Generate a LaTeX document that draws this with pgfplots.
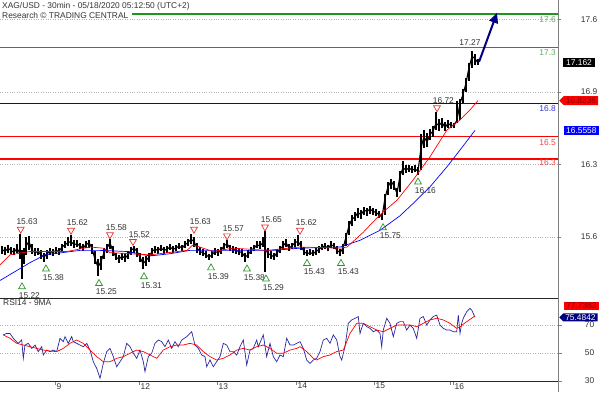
\documentclass[border=0pt]{standalone}
\usepackage{pgfplots}
\pgfplotsset{compat=1.18}
\usepackage{pgfplotstable}
\usepackage{fontspec}
\setmainfont{Liberation Sans}
\usetikzlibrary{shapes.symbols,arrows.meta}

\definecolor{txt}{HTML}{333333}
\definecolor{lvgreen}{RGB}{30,150,30}
\definecolor{lblgreen}{RGB}{100,170,100}
\definecolor{lblred}{RGB}{235,70,70}
\definecolor{lvblue}{RGB}{0,0,210}
\definecolor{trired}{RGB}{230,50,50}
\definecolor{trigreen}{RGB}{40,150,40}
\definecolor{rsiblue}{RGB}{40,40,160}
\definecolor{navy}{RGB}{0,0,128}

% 30-min bars: x position, close, high, low
\pgfplotstableread{
x c hi lo
2 15.49 15.52 15.45
5 15.47 15.51 15.44
8 15.50 15.53 15.46
11 15.48 15.51 15.45
14 15.46 15.50 15.44
17 15.50 15.54 15.46
20 15.45 15.63 15.40
22 15.40 15.48 15.22
24 15.44 15.50 15.36
26 15.52 15.60 15.44
29 15.56 15.61 15.48
32 15.48 15.54 15.45
35 15.46 15.50 15.43
38 15.47 15.50 15.44
41 15.44 15.48 15.40
44 15.42 15.46 15.38
47 15.45 15.48 15.40
50 15.47 15.50 15.44
53 15.46 15.49 15.43
56 15.48 15.51 15.45
59 15.47 15.50 15.44
62 15.51 15.54 15.47
65 15.53 15.56 15.50
68 15.55 15.60 15.52
71 15.56 15.62 15.52
74 15.53 15.57 15.50
77 15.54 15.57 15.51
80 15.52 15.55 15.49
83 15.50 15.54 15.47
86 15.53 15.56 15.50
89 15.55 15.57 15.50
92 15.50 15.54 15.45
95 15.40 15.47 15.36
98 15.33 15.40 15.25
101 15.38 15.43 15.30
104 15.46 15.50 15.40
107 15.50 15.54 15.46
110 15.55 15.58 15.49
113 15.47 15.52 15.43
116 15.42 15.46 15.39
119 15.40 15.44 15.37
122 15.43 15.46 15.39
125 15.41 15.45 15.38
128 15.44 15.47 15.40
131 15.48 15.51 15.44
134 15.50 15.52 15.46
137 15.47 15.50 15.42
140 15.42 15.46 15.38
143 15.36 15.42 15.31
146 15.39 15.43 15.34
149 15.42 15.46 15.38
152 15.47 15.50 15.43
155 15.49 15.52 15.46
158 15.48 15.51 15.45
161 15.50 15.53 15.47
164 15.48 15.51 15.45
167 15.49 15.52 15.46
170 15.51 15.54 15.48
173 15.49 15.52 15.46
176 15.50 15.53 15.47
179 15.52 15.55 15.49
182 15.50 15.53 15.47
185 15.53 15.56 15.50
188 15.55 15.58 15.52
191 15.58 15.63 15.54
194 15.56 15.60 15.51
197 15.50 15.55 15.46
200 15.47 15.51 15.44
203 15.46 15.49 15.43
206 15.44 15.47 15.41
209 15.42 15.45 15.39
212 15.44 15.47 15.41
215 15.47 15.50 15.44
218 15.46 15.49 15.43
221 15.48 15.51 15.45
224 15.52 15.55 15.48
227 15.54 15.57 15.50
230 15.50 15.53 15.47
233 15.49 15.52 15.46
236 15.48 15.51 15.45
239 15.47 15.50 15.44
242 15.46 15.49 15.42
245 15.42 15.46 15.38
248 15.44 15.48 15.41
251 15.48 15.51 15.45
254 15.50 15.53 15.47
257 15.53 15.56 15.50
260 15.52 15.56 15.49
263 15.55 15.60 15.51
265 15.50 15.65 15.29
268 15.45 15.50 15.41
271 15.44 15.47 15.40
274 15.42 15.46 15.39
277 15.46 15.49 15.42
280 15.49 15.52 15.46
283 15.52 15.56 15.49
286 15.55 15.58 15.51
289 15.50 15.54 15.47
292 15.52 15.55 15.49
295 15.55 15.58 15.51
298 15.56 15.62 15.52
301 15.52 15.56 15.48
304 15.47 15.51 15.44
307 15.45 15.48 15.43
310 15.46 15.49 15.44
313 15.45 15.48 15.43
316 15.47 15.50 15.44
319 15.49 15.52 15.46
322 15.51 15.54 15.48
325 15.52 15.55 15.49
328 15.50 15.53 15.47
331 15.53 15.56 15.50
334 15.52 15.55 15.49
337 15.48 15.52 15.45
340 15.46 15.49 15.43
343 15.50 15.54 15.45
346 15.60 15.64 15.52
349 15.70 15.74 15.62
352 15.76 15.80 15.70
355 15.78 15.82 15.74
358 15.82 15.86 15.77
361 15.80 15.84 15.76
364 15.84 15.87 15.80
367 15.83 15.86 15.79
370 15.85 15.88 15.81
373 15.83 15.86 15.80
376 15.82 15.85 15.79
379 15.80 15.83 15.77
382 15.78 15.81 15.75
385 15.95 15.99 15.80
388 16.05 16.09 15.98
391 16.10 16.12 16.03
394 16.06 16.10 16.02
397 15.99 16.04 15.96
400 16.15 16.19 16.00
403 16.22 16.28 16.16
406 16.20 16.25 16.17
409 16.22 16.25 16.18
412 16.20 16.24 16.17
415 16.21 16.25 16.18
418 16.19 16.23 16.16
421 16.40 16.52 16.20
424 16.50 16.56 16.40
427 16.45 16.53 16.41
430 16.52 16.57 16.47
433 16.55 16.60 16.50
436 16.62 16.72 16.56
439 16.60 16.66 16.55
442 16.63 16.67 16.58
445 16.58 16.63 16.55
448 16.62 16.65 16.58
451 16.60 16.63 16.58
454 16.60 16.62 16.58
457 16.65 16.82 16.62
460 16.80 16.84 16.65
463 16.88 16.93 16.80
466 16.98 17.03 16.90
469 17.12 17.16 17.00
472 17.22 17.27 17.12
475 17.20 17.24 17.14
478 17.16 17.20 17.14
}\price

\pgfplotstableread{
x v
0 15.35
10 15.44
30 15.47
67 15.47
90 15.51
103 15.50
110 15.46
150 15.44
187 15.48
193 15.53
213 15.47
233 15.50
267 15.48
300 15.51
340 15.50
347 15.51
363 15.64
380 15.80
397 15.93
413 16.11
430 16.32
447 16.56
460 16.65
470 16.74
478 16.8236
}\mafast

\pgfplotstableread{
x v
0 15.21
30 15.37
45 15.44
80 15.48
100 15.48
127 15.47
150 15.43
170 15.45
190 15.48
207 15.48
240 15.48
273 15.48
300 15.50
340 15.51
360 15.57
380 15.66
400 15.79
413 15.90
430 16.05
447 16.23
460 16.38
475 16.5558
}\maslow

\pgfplotstableread{
x v
3.3 62.9
6.7 64.0
10 64.0
13.3 60.5
18.3 56.9
21.7 59.3
23.3 46.2
25 55.7
28.3 56.9
31.7 53.3
35 55.7
38.3 51.0
41.7 54.5
43.3 48.6
46.7 52.1
50 51.0
53.3 52.1
56.7 51.0
60 60.5
63.3 58.1
65 61.7
68.3 56.9
71.7 61.7
73.3 58.1
76.7 56.9
80 55.7
83.3 54.5
86.7 56.9
90 52.1
93.3 43.8
96.7 39.0
100 31.9
103.3 42.6
106.7 51.0
110 53.3
113.3 47.4
116.7 40.2
120 43.8
123.3 47.4
126.7 56.9
130 54.5
133.3 49.8
136.7 46.2
140 52.1
143.3 43.8
145 36.7
148.3 47.4
151.7 49.8
155 56.9
158.3 59.3
161.7 58.1
165 54.5
168.3 59.3
171.7 53.3
175 58.1
178.3 54.5
181.7 59.3
186.7 61.7
191.7 65.2
195 55.7
198.3 53.3
201.7 48.6
205 47.4
206.7 40.2
210 45.0
213.3 40.2
216.7 43.8
220 47.4
223.3 56.9
226.7 55.7
230 51.0
233.3 51.0
236.7 48.6
240 54.5
243.3 59.3
246.7 41.4
250 52.1
253.3 53.3
256.7 59.3
258.3 54.5
263.3 62.9
266.7 47.4
270 56.9
273.3 47.4
276.7 43.8
280 48.6
283.3 47.4
286.7 60.5
290 55.7
293.3 55.7
296.7 56.9
300 58.1
303.3 53.3
306.7 45.0
310 42.6
313.3 45.0
316.7 46.2
320 51.0
323.3 59.3
326.7 60.5
330 56.9
333.3 62.9
336.7 59.3
340 47.4
341.7 45.0
345 54.5
348.3 71.2
351.7 73.6
355 74.8
358.3 76.0
360 64.0
363.3 71.2
366.7 68.8
370 67.6
373.3 65.2
376.7 66.4
380 64.0
381.7 54.5
383.3 66.4
386.7 74.8
390 71.2
393.3 61.7
396.7 71.2
400 72.4
403.3 72.4
406.7 66.4
410 70.0
413.3 67.6
416.7 60.5
420 74.8
423.3 76.0
426.7 70.0
430 73.6
433.3 76.0
436.7 77.1
440 70.0
443.3 67.6
446.7 66.4
450 66.4
453.3 65.2
456.7 65.2
458.3 77.1
460 64.0
461.7 71.2
463.3 74.8
466.7 79.5
470 81.9
471.7 80.7
475 75.5
}\rsi

\pgfplotstableread{
x v
3.3 62.9
10 60.5
16.7 56.9
23.3 55.7
30 54.5
36.7 53.3
43.3 52.1
50 51.4
56.7 51.0
63.3 53.3
70 56.9
76.7 59.3
83.3 56.9
90 52.1
96.7 47.4
103.3 43.8
110 43.8
116.7 46.2
123.3 47.4
130 49.8
136.7 52.1
143.3 51.0
150 48.6
156.7 46.2
163.3 52.1
170 54.5
176.7 55.7
183.3 55.7
190 56.9
196.7 55.7
203.3 51.0
210 47.4
216.7 45.0
223.3 46.2
230 48.6
236.7 52.1
243.3 53.3
250 52.1
256.7 54.5
263.3 55.7
270 53.3
276.7 49.8
283.3 49.8
290 52.1
296.7 53.3
300 54.5
306.7 51.0
313.3 46.2
316.7 45.0
323.3 47.4
330 48.6
336.7 51.0
343.3 52.1
350 64.0
356.7 71.2
363.3 71.2
370 68.8
376.7 66.4
383.3 65.2
390 67.6
396.7 70.0
403.3 70.0
410 70.0
416.7 68.8
423.3 71.2
430 73.6
436.7 74.8
443.3 73.6
450 71.2
456.7 67.6
460 68.8
466.7 72.4
475 76.5
}\rsima

\begin{document}
\begin{tikzpicture}[x=1pt,y=1pt,font=\fontsize{8.4}{10}\selectfont]

\node[anchor=north west,inner sep=0pt,text=txt,align=left] at (2pt,390pt)
  {XAG/USD - 30min - 05/18/2020 05:12:50 (UTC+2)\\Research © TRADING CENTRAL};

\begin{axis}[
  at={(0pt,94pt)}, anchor=south west, scale only axis,
  width=558pt, height=298pt,
  xmin=0, xmax=558, ymin=15.0529, ymax=17.7256,
  axis line style={draw=none},
  xtick=\empty,
  ytick={15.6,16.25,16.9,17.55}, yticklabels={15.6,16.3,16.9,17.6},
  ytick pos=right, yticklabel pos=right,
  tick align=outside, major tick length=3pt, tick style={gray},
  ymajorgrids, grid style={dotted, gray!60},
  yticklabel style={text=txt, anchor=center, xshift=28pt},
  /pgf/number format/assume math mode=true,
  clip=false,
]
% level lines
\addplot[lvgreen, line width=1.3pt] coordinates {(132,17.6) (558,17.6)};
\addplot[lvgreen, line width=1.3pt] coordinates {(0,17.3) (558,17.3)};
\addplot[lvblue, line width=1.3pt] coordinates {(0,16.8) (558,16.8)};
\addplot[red, line width=1.3pt] coordinates {(0,16.5) (558,16.5)};
\addplot[red, line width=1.3pt] coordinates {(0,16.3) (558,16.3)};
% price bars
\addplot[black, line width=1.1pt, mark=none,
  error bars/.cd, y dir=both, y explicit, error mark=none,
  error bar style={black, line width=1.5pt}]
  table[x=x, y=c, y error plus expr=\thisrow{hi}-\thisrow{c},
        y error minus expr=\thisrow{c}-\thisrow{lo}] {\price};
% moving averages
\addplot[blue, line width=0.7pt] table[x=x,y=v] {\maslow};
\addplot[red, line width=0.7pt] table[x=x,y=v] {\mafast};
% highs
\addplot[only marks, mark=triangle, mark size=4pt,
  mark options={rotate=180, draw=trired, fill=white, line width=0.7pt},
  point meta=explicit symbolic, nodes near coords,
  nodes near coords style={anchor=south west, xshift=-5pt, yshift=3.5pt, inner sep=0.5pt, text=txt}]
  table[x=x, y=y, meta=lab] {
x y lab
20.7 15.67 15.63
71 15.66 15.62
110 15.62 15.58
133 15.56 15.52
194 15.67 15.63
227 15.61 15.57
265 15.69 15.65
300 15.66 15.62
437 16.76 16.72
};
% lows
\addplot[only marks, mark=triangle, mark size=4pt,
  mark options={draw=trigreen, fill=white, line width=0.7pt},
  point meta=explicit symbolic, nodes near coords,
  nodes near coords style={anchor=north west, xshift=-4pt, yshift=-4.5pt, inner sep=0.5pt, text=txt}]
  table[x=x, y=y, meta=lab] {
x y lab
22 15.153 15.22
46 15.313 15.38
99 15.183 15.25
144 15.243 15.31
211 15.323 15.39
247 15.313 15.38
266 15.223 15.29
307 15.363 15.43
341 15.363 15.43
383 15.683 15.75
418 16.093 16.16
};
% 17.27 label
\node[anchor=south, text=txt, inner sep=0.5pt] at (axis cs:470,17.31) {17.27};
% arrow
\draw[navy, line width=2pt, -{Triangle[length=10pt,width=9pt]}]
  (axis cs:479,17.17) -- (axis cs:497,17.61);
% level labels
\node[anchor=east, text=lblgreen, inner sep=1pt] at (axis cs:557,17.6) [yshift=-5.5pt] {17.6};
\node[anchor=east, text=lblgreen, inner sep=1pt] at (axis cs:557,17.3) [yshift=-5.5pt] {17.3};
\node[anchor=east, text=lvblue!80, inner sep=1pt] at (axis cs:557,16.8) [yshift=-5.5pt] {16.8};
\node[anchor=east, text=lblred, inner sep=1pt] at (axis cs:557,16.5) [yshift=-5.5pt] {16.5};
\node[anchor=east, text=lblred, inner sep=1pt] at (axis cs:557,16.3) [yshift=-4pt] {16.3};
% right value boxes
\node[fill=black, text=white, anchor=west, inner xsep=3pt, inner ysep=1.5pt] at (axis cs:563,17.162) {17.162};
\node[signal, signal to=west, fill=red, text=red!55!black, anchor=west, inner xsep=2pt, inner ysep=1.5pt] at (axis cs:559,16.8236) {16.8236};
\node[fill=blue, text=white, anchor=west, inner xsep=2pt, inner ysep=1.5pt] at (axis cs:564,16.5558) {16.5558};
% frame line
\draw[gray] (rel axis cs:1,0) -- (rel axis cs:1,1);
\end{axis}

\begin{axis}[
  at={(0pt,11pt)}, anchor=south west, scale only axis,
  width=558pt, height=83pt,
  xmin=0, xmax=558, ymin=30, ymax=89.29,
  axis line style={draw=none},
  axis background/.style={fill=white},
  xtick={55,139,217,296,374,453}, xticklabels={9,12,13,14,15,16},
  extra x ticks={450}, extra x tick labels={},
  xtick pos=left, xticklabel pos=left,
  ytick={30,50,70},
  ytick pos=right, yticklabel pos=right,
  tick align=outside, major tick length=3.5pt, tick style={gray},
  ymajorgrids, grid style={dotted, gray!60},
  yticklabel style={text=txt, anchor=center, xshift=28pt},
  xticklabel style={text=txt, anchor=north west, inner sep=0.5pt, xshift=1pt, yshift=2pt},
  /pgf/number format/assume math mode=true,
  clip=false,
]
\addplot[rsiblue, line width=0.7pt] table[x=x,y=v] {\rsi};
\addplot[red, line width=0.7pt] table[x=x,y=v] {\rsima};
\node[anchor=north west, text=txt, inner sep=0pt] at (axis cs:3,88) {RSI14 - 9MA};
\node[fill=red, text=red!55!black, anchor=west, inner xsep=2pt, inner ysep=1pt] at (axis cs:564,83.6) {77.7383};
\node[signal, signal to=west, fill=navy, text=white, anchor=west, inner xsep=2pt, inner ysep=1pt] at (axis cs:559,75.48) {75.4842};
\draw[black!85] (rel axis cs:0,0) -- (rel axis cs:1,0);
\draw[black!85] (rel axis cs:0,1) -- (rel axis cs:1,1);
\draw[gray] (rel axis cs:1,0) -- (rel axis cs:1,1);
\end{axis}
\draw[gray] (558pt,0pt) -- (558pt,11pt);
\pgfresetboundingbox
\useasboundingbox (0pt,0pt) rectangle (600pt,392pt);
\end{tikzpicture}
\end{document}
